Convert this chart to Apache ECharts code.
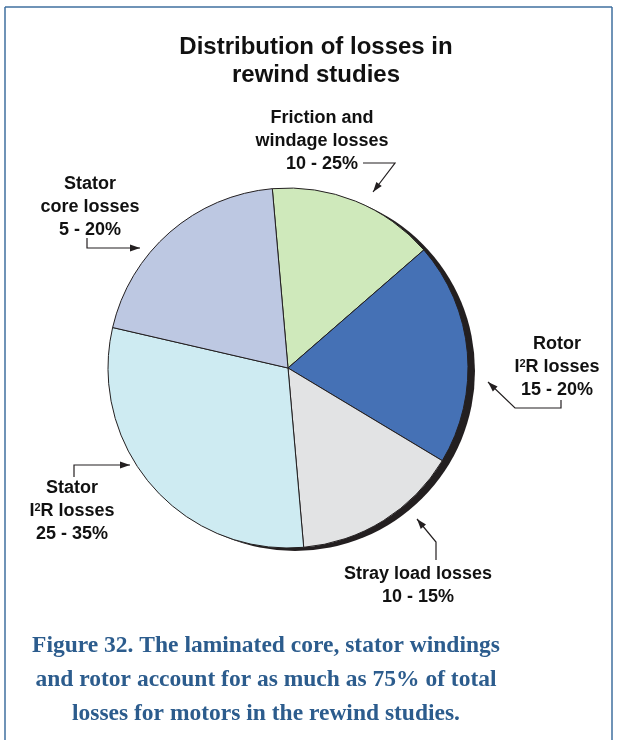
<!DOCTYPE html>
<html>
<head>
<meta charset="utf-8">
<script src="https://cdn.jsdelivr.net/npm/echarts@6/dist/echarts.min.js"></script>
<style>
  html, body { margin: 0; padding: 0; background: #ffffff; }
  #chart { width: 617px; height: 740px; }
</style>
</head>
<body>
<div id="chart"></div>
<script>
// Loss categories, clockwise from the top of the pie
const categories = [
  'Friction and\nwindage losses',
  'Rotor\nI{sup|2}R losses',
  'Stray load losses',
  'Stator\nI{sup|2}R losses',
  'Stator\ncore losses'
];
// Slice shares (percent of total losses)
const shares = [15, 20, 15, 30, 20];
// Reported ranges shown under each label
const ranges = ['10 - 25%', '15 - 20%', '10 - 15%', '25 - 35%', '5 - 20%'];

const titleLines = ['Distribution of losses in', 'rewind studies'];
const captionLines = [
  'Figure 32. The laminated core, stator windings',
  'and rotor account for as much as 75% of total',
  'losses for motors in the rewind studies.'
];

const chart = echarts.init(document.getElementById('chart'), null, { renderer: 'canvas' });

const ink = '#231f20';
const pieCenter = [288, 368];
const pieRadius = 180;

// Callout placement: label anchor and leader path ending in an arrowhead
const callouts = [
  { x: 322, y: 107, path: [[363, 163], [395, 163], [373, 192]] },
  { x: 557, y: 333, path: [[561, 400], [561, 408], [515, 408], [488, 382]] },
  { x: 418, y: 563, path: [[436, 560], [436, 542], [417, 519]] },
  { x: 72, y: 477, path: [[74, 477], [74, 465], [130, 465]] },
  { x: 90, y: 173, path: [[87, 238], [87, 248], [140, 248]] }
];

function arrowHead(path) {
  const [x1, y1] = path[path.length - 2];
  const [x2, y2] = path[path.length - 1];
  const len = Math.hypot(x2 - x1, y2 - y1);
  const ux = (x2 - x1) / len, uy = (y2 - y1) / len;
  const L = 10, W = 3.4;
  const bx = x2 - ux * L, by = y2 - uy * L;
  return [[x2, y2], [bx - uy * W, by + ux * W], [bx + uy * W, by - ux * W]];
}

const graphics = [];

// Frame
const frameStyle = { stroke: '#3f6f9f', lineWidth: 1.5 };
graphics.push({ type: 'line', shape: { x1: 5, y1: 7, x2: 612, y2: 7 }, style: frameStyle, silent: true });
graphics.push({ type: 'line', shape: { x1: 5, y1: 7, x2: 5, y2: 740 }, style: frameStyle, silent: true });
graphics.push({ type: 'line', shape: { x1: 612, y1: 7, x2: 612, y2: 740 }, style: frameStyle, silent: true });

// Title
graphics.push({
  type: 'text', x: 316, y: 33, silent: true,
  style: {
    text: titleLines.join('\n'), align: 'center', verticalAlign: 'top',
    font: 'bold 24px "Liberation Sans", Arial, sans-serif', lineHeight: 28, fill: '#111111'
  }
});

// Callouts
categories.forEach((name, i) => {
  const c = callouts[i];
  graphics.push({
    type: 'text', x: c.x, y: c.y, silent: true, z: 10,
    style: {
      text: name + '\n' + ranges[i], align: 'center', verticalAlign: 'top',
      font: 'bold 18px "Liberation Sans", Arial, sans-serif', lineHeight: 23, fill: '#111111',
      rich: {
        sup: { font: 'bold 11px "Liberation Sans", Arial, sans-serif', fill: '#111111', padding: [0, 0, 8, 0] }
      }
    }
  });
  graphics.push({
    type: 'polyline', silent: true, z: 10,
    shape: { points: c.path },
    style: { stroke: ink, lineWidth: 1.2, fill: null }
  });
  graphics.push({
    type: 'polygon', silent: true, z: 10,
    shape: { points: arrowHead(c.path) },
    style: { fill: ink, stroke: null }
  });
});

// Caption
graphics.push({
  type: 'text', x: 266, y: 629, silent: true,
  style: {
    text: captionLines.join('\n'), align: 'center', verticalAlign: 'top',
    font: 'bold 23.5px "Liberation Serif", "DejaVu Serif", serif', lineHeight: 34, fill: '#2c5c8d'
  }
});

chart.setOption({
  animation: false,
  color: ['#cfe9bb', '#4571b5', '#e2e3e4', '#ceebf2', '#bdc8e2'],
  series: [
    {
      // offset dark disc that shows as the drop shadow on the lower right
      type: 'pie', z: 1, silent: true,
      center: [pieCenter[0] + 7, pieCenter[1] + 3], radius: pieRadius,
      label: { show: false }, labelLine: { show: false },
      itemStyle: { color: ink },
      data: [{ value: 1, name: 'shadow' }]
    },
    {
      type: 'pie', z: 2, silent: true,
      center: pieCenter, radius: pieRadius,
      startAngle: 95, clockwise: true,
      label: { show: false }, labelLine: { show: false },
      emphasis: { disabled: true },
      itemStyle: { borderColor: ink, borderWidth: 1 },
      data: categories.map((n, i) => ({ name: n, value: shares[i] }))
    }
  ],
  graphic: graphics
});
</script>
</body>
</html>
